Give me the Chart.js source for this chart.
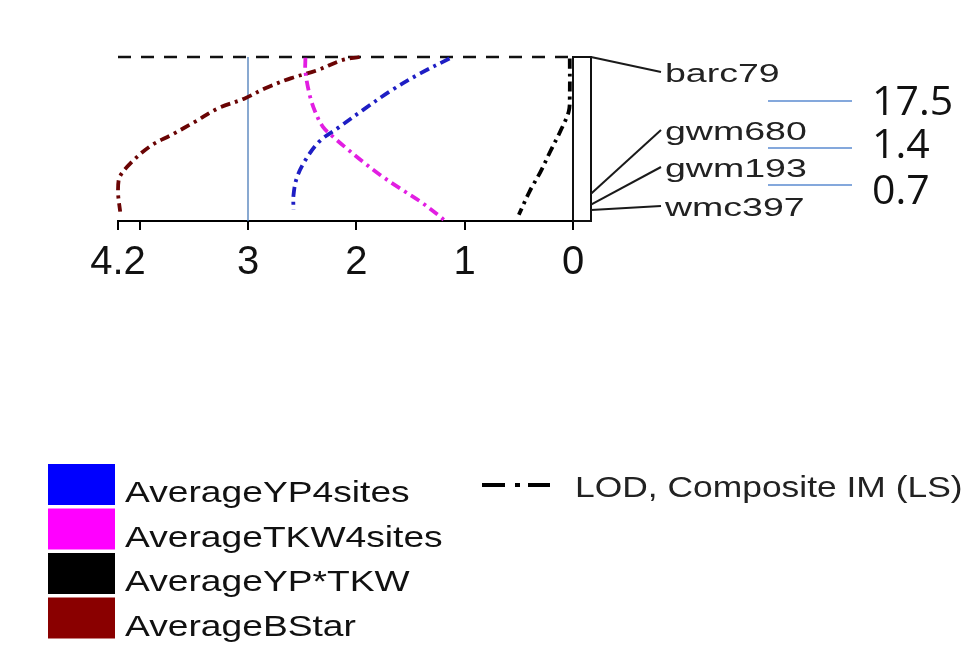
<!DOCTYPE html>
<html>
<head>
<meta charset="utf-8">
<script src="https://cdn.jsdelivr.net/npm/chart.js@4/dist/chart.umd.min.js"></script>
<style>
  html, body { margin: 0; padding: 0; background: #fff; }
  canvas { display: block; }
</style>
</head>
<body>
<canvas id="qtl" width="973" height="651"></canvas>
<script>
// LOD axis ticks (the axis runs right-to-left, 0 next to the chromosome)
const lodTicks = [0, 1, 2, 3, 4, 4.2];
const lodTickLabels = ['0', '1', '2', '3', '', '4.2'];

// Trait names and colours
const seriesNames = ['AverageYP4sites', 'AverageTKW4sites', 'AverageYP*TKW', 'AverageBStar'];
const lineColors = ['#1e1ec4', '#e21ee2', '#000000', '#6a0404'];
const swatchColors = ['#0000ff', '#ff00ff', '#000000', '#8a0000'];

// LOD profiles along the chromosome (position in cM from barc79)
const ypPos  = [0.2, 2.1, 4.4, 6.8, 8.9, 10.8, 13.2, 15.5, 17.7, 19.6];
const ypLOD  = [1.14, 1.41, 1.69, 1.94, 2.15, 2.34, 2.47, 2.55, 2.58, 2.58];

const tkwPos = [0.1, 1.9, 4.9, 7.0, 8.9, 10.4, 11.7, 13.4, 15.1, 16.8, 18.5, 20.4, 21.0];
const tkwLOD = [2.47, 2.47, 2.43, 2.38, 2.31, 2.20, 2.09, 1.94, 1.78, 1.60, 1.41, 1.23, 1.18];

const prodPos = [0.2, 4.9, 7.0, 9.6, 12.1, 14.7, 17.2, 20.2];
const prodLOD = [0.03, 0.03, 0.04, 0.12, 0.21, 0.30, 0.40, 0.50];

const bstarPos = [0.0, 0.4, 1.7, 2.7, 4.0, 5.3, 6.6, 8.3, 10.0, 11.3, 13.4, 15.5, 17.3, 19.8];
const bstarLOD = [1.97, 2.13, 2.36, 2.60, 2.84, 3.03, 3.28, 3.49, 3.71, 3.89, 4.07, 4.19, 4.20, 4.18];

// Significance threshold
const thresholdLOD = 3;

// Genetic map
const markerNames = ['barc79', 'gwm680', 'gwm193', 'wmc397'];
const markerPos = [0, 17.5, 18.9, 19.6];
const intervalLabels = ['17.5', '1.4', '0.7'];

const lodLegendLabel = 'LOD, Composite IM (LS)';

const profiles = [
  [ypLOD, ypPos],
  [tkwLOD, tkwPos],
  [prodLOD, prodPos],
  [bstarLOD, bstarPos]
];

function stretchText(ctx, text, x, y, sx) {
  ctx.save();
  ctx.translate(x, y);
  ctx.scale(sx, 1);
  ctx.fillText(text, 0, 0);
  ctx.restore();
}

const mapPlugin = {
  id: 'qtlMap',
  beforeDatasetsDraw(chart) {
    const { ctx, scales: { x, y } } = chart;
    ctx.save();
    // threshold line
    const tx = x.getPixelForValue(thresholdLOD);
    ctx.strokeStyle = '#4a7bb8';
    ctx.lineWidth = 1.3;
    ctx.beginPath();
    ctx.moveTo(tx, y.getPixelForValue(0));
    ctx.lineTo(tx, y.getPixelForValue(21));
    ctx.stroke();
    // dashed line at the top marker
    const ty = y.getPixelForValue(markerPos[0]);
    ctx.strokeStyle = '#111';
    ctx.lineWidth = 2.6;
    ctx.setLineDash([13, 10]);
    ctx.beginPath();
    ctx.moveTo(x.getPixelForValue(4.2), ty);
    ctx.lineTo(x.getPixelForValue(0) - 4, ty);
    ctx.stroke();
    ctx.restore();
  },
  afterDraw(chart) {
    const { ctx, chartArea, scales: { x, y } } = chart;
    ctx.save();

    // chromosome bar
    const bx0 = x.getPixelForValue(0);
    const bx1 = bx0 + 18;
    const byTop = y.getPixelForValue(0);
    const byBot = chartArea.bottom;
    ctx.strokeStyle = '#111';
    ctx.lineWidth = 2;
    ctx.strokeRect(bx0, byTop, bx1 - bx0, byBot - byTop);

    // marker leaders and names
    const labelX = 665;
    const labelBase = [82, 140, 177, 216];
    ctx.lineWidth = 2;
    ctx.strokeStyle = '#1a1a1a';
    ctx.fillStyle = '#222';
    ctx.font = '25px "Liberation Sans", Arial, sans-serif';
    ctx.textBaseline = 'alphabetic';
    ctx.textAlign = 'left';
    markerNames.forEach((name, i) => {
      const my = y.getPixelForValue(markerPos[i]);
      ctx.beginPath();
      ctx.moveTo(bx1, my);
      ctx.lineTo(labelX - 4, labelBase[i] - 10);
      ctx.stroke();
      stretchText(ctx, name, labelX, labelBase[i], 1.5);
    });

    // interval lengths between markers
    const ivLineY = [101, 148, 185];
    const ivBase = [115, 158, 204];
    ctx.strokeStyle = '#5b8bd0';
    ctx.lineWidth = 1.4;
    ctx.fillStyle = '#111';
    ctx.font = '41px "Open Sans", "Liberation Sans", sans-serif';
    intervalLabels.forEach((t, i) => {
      ctx.beginPath();
      ctx.moveTo(768, ivLineY[i]);
      ctx.lineTo(852, ivLineY[i]);
      ctx.stroke();
      ctx.fillText(t, 872, ivBase[i]);
    });

    // trait legend
    ctx.font = '30px "Liberation Sans", Arial, sans-serif';
    chart.data.datasets.forEach((ds, i) => {
      const top = 464 + i * 44.5;
      ctx.fillStyle = ds.backgroundColor;
      ctx.fillRect(48, top, 67, 41);
      ctx.fillStyle = '#111';
      stretchText(ctx, ds.label, 125, top + 38, 1.24);
    });

    // line-style legend
    ctx.strokeStyle = '#000';
    ctx.lineWidth = 4;
    ctx.beginPath();
    ctx.moveTo(482, 485); ctx.lineTo(505, 485);
    ctx.moveTo(515, 485); ctx.lineTo(520, 485);
    ctx.moveTo(528, 485); ctx.lineTo(550, 485);
    ctx.stroke();
    ctx.fillStyle = '#222';
    stretchText(ctx, lodLegendLabel, 575, 497, 1.18);

    ctx.restore();
  }
};

new Chart(document.getElementById('qtl'), {
  type: 'line',
  data: {
    datasets: seriesNames.map((name, i) => ({
      label: name,
      data: profiles[i][0].map((v, j) => ({ x: v, y: profiles[i][1][j] })),
      borderColor: lineColors[i],
      backgroundColor: swatchColors[i],
      borderWidth: 3.8,
      borderDash: [10, 5, 3, 5],
      pointRadius: 0,
      tension: 0.35,
      fill: false,
      clip: false
    }))
  },
  options: {
    responsive: false,
    animation: false,
    devicePixelRatio: 1,
    layout: { padding: { left: 118, right: 400, top: 57, bottom: 350 } },
    plugins: { legend: { display: false }, tooltip: { enabled: false } },
    scales: {
      x: {
        type: 'linear',
        min: 0,
        max: 4.2,
        reverse: true,
        afterBuildTicks: s => { s.ticks = lodTicks.map(v => ({ value: v })); },
        afterFit: s => { s.height = 80; },
        ticks: {
          autoSkip: false,
          maxRotation: 0,
          padding: 9,
          color: '#111',
          font: { family: '"Liberation Sans Narrow", "Liberation Sans", Arial, sans-serif', size: 40 },
          callback: v => lodTickLabels[lodTicks.indexOf(v)]
        },
        grid: { display: true, drawOnChartArea: false, drawTicks: true, tickLength: 9, color: '#000', lineWidth: 2 },
        border: { display: true, color: '#000', width: 2 }
      },
      y: { type: 'linear', min: 0, max: 21, reverse: true, display: false }
    }
  },
  plugins: [mapPlugin]
});
</script>
</body>
</html>
